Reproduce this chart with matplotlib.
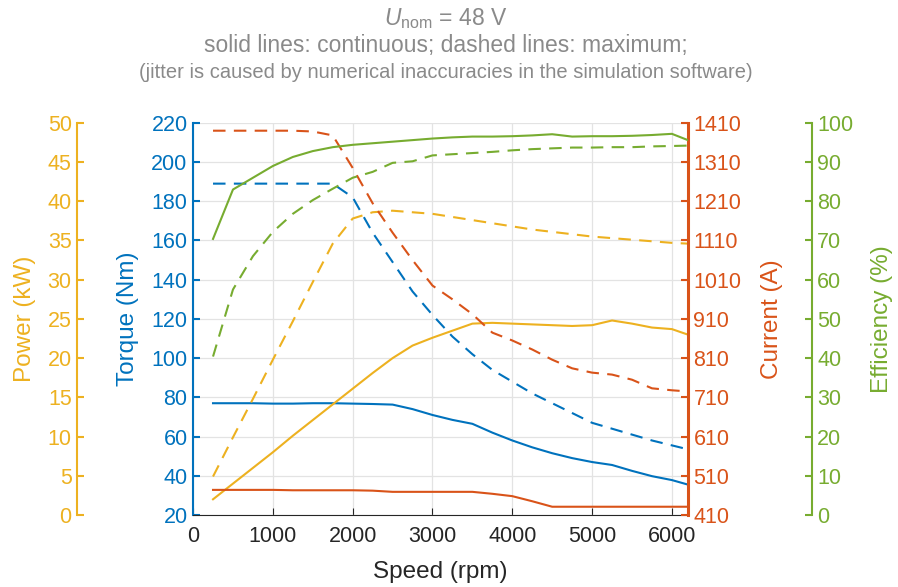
import matplotlib
matplotlib.use('Agg')
import matplotlib.pyplot as plt

plt.rcParams['font.family'] = ['Liberation Sans', 'DejaVu Sans']
plt.rcParams['mathtext.fontset'] = 'custom'
plt.rcParams['mathtext.rm'] = 'Liberation Sans'
plt.rcParams['mathtext.it'] = 'Liberation Sans:italic'

# speed grid (rpm)
speed = [250, 500, 750, 1000, 1250, 1500, 1750, 2000, 2250, 2500, 2750, 3000, 3250,
         3500, 3750, 4000, 4250, 4500, 4750, 5000, 5250, 5500, 5750, 6000, 6200]

# torque (Nm)
torque_cont = [77, 77, 77, 76.8, 76.8, 77, 77, 76.8, 76.6, 76.3, 74, 71, 68.5,
               66.5, 62, 58, 54.5, 51.5, 49, 47, 45.5, 42.5, 39.8, 37.8, 35.5]
torque_max = [189, 189, 189, 189, 189, 189, 189, 182, 164, 149, 134, 122, 111,
              102, 94, 88, 82, 77, 72, 67, 64, 61, 58, 55.5, 53.5]

# power (kW)
power_cont = [2.0, 4.0, 6.0, 8.0, 10.1, 12.1, 14.1, 16.1, 18.1, 20.0, 21.6, 22.6, 23.5,
              24.4, 24.5, 24.4, 24.3, 24.2, 24.1, 24.2, 24.8, 24.4, 23.9, 23.7, 23.0]
power_max = [4.9, 9.9, 14.8, 19.8, 24.7, 29.7, 34.6, 37.8, 38.6, 38.8, 38.6, 38.4, 38.0,
             37.6, 37.2, 36.8, 36.4, 36.1, 35.8, 35.5, 35.3, 35.1, 34.9, 34.7, 34.6]

# current (A)
current_cont = [474, 474, 474, 474, 473, 473, 473, 473, 472, 469, 469, 469, 469,
                469, 464, 458, 445, 431, 431, 431, 431, 431, 431, 431, 431]
current_max = [1390, 1390, 1390, 1390, 1390, 1388, 1378, 1295, 1205, 1130, 1060, 995, 960,
               922, 875, 855, 832, 806, 784, 773, 768, 755, 733, 728, 725]

# efficiency (%)
eff_cont = [70.4, 83, 86, 89, 91.3, 92.8, 93.8, 94.4, 94.8, 95.2, 95.6, 96, 96.3,
            96.5, 96.5, 96.6, 96.8, 97.1, 96.5, 96.6, 96.6, 96.7, 96.9, 97.2, 95.6]
eff_max = [40.4, 57.5, 66, 72.2, 76.8, 80.3, 83.2, 86, 87.5, 89.8, 90.2, 91.7, 92,
           92.3, 92.6, 93, 93.3, 93.5, 93.7, 93.7, 93.8, 93.8, 94, 94.1, 94.2]

c_blue = '#0072BD'
c_red = '#D95319'
c_yel = '#EDB120'
c_grn = '#77AC30'
c_txt = '#262626'
dash = (6, 4)
lw = 1.5
fs = 15.5
fl = 17.5

fig = plt.figure(figsize=(8.98, 5.87), dpi=100)
ax = fig.add_axes([0.215, 0.1227, 0.551, 0.668])

ax_p = ax.twinx()
ax_i = ax.twinx()
ax_e = ax.twinx()

ax.plot(speed, torque_cont, color=c_blue, lw=lw)
ax.plot(speed, torque_max, color=c_blue, lw=lw, dashes=dash)
ax_p.plot(speed, power_cont, color=c_yel, lw=lw)
ax_p.plot(speed, power_max, color=c_yel, lw=lw, dashes=dash)
ax_i.plot(speed, current_cont, color=c_red, lw=lw)
ax_i.plot(speed, current_max, color=c_red, lw=lw, dashes=dash)
ax_e.plot(speed, eff_cont, color=c_grn, lw=lw)
ax_e.plot(speed, eff_max, color=c_grn, lw=lw, dashes=dash)

ax.set_xlim(0, 6200)
ax.set_xticks(range(0, 6001, 1000))
ax.set_ylim(20, 220)
ax.set_yticks(range(20, 221, 20))
ax.grid(True, color='#e3e3e3', lw=0.9)
ax.set_axisbelow(True)

for a in (ax, ax_p, ax_i, ax_e):
    a.spines['top'].set_visible(False)
    a.tick_params(direction='in', length=5, labelsize=fs, pad=4)

# torque (inner left)
ax.spines['right'].set_visible(False)
ax.spines['left'].set_color(c_blue)
ax.spines['left'].set_linewidth(1.5)
ax.spines['bottom'].set_color(c_txt)
ax.tick_params(axis='y', colors=c_blue, width=1.5)
ax.tick_params(axis='x', colors=c_txt, labelcolor=c_txt, pad=8)
ax.set_xlabel('Speed (rpm)', fontsize=fl, color=c_txt, labelpad=10)
ax.set_ylabel('Torque (Nm)', fontsize=fl, color=c_blue)
ax.yaxis.set_label_coords(-0.11, 0.5)

# power (outer left)
ax_p.set_ylim(0, 50)
ax_p.set_yticks(range(0, 51, 5))
ax_p.spines['right'].set_visible(False)
ax_p.spines['bottom'].set_visible(False)
ax_p.spines['left'].set_visible(True)
ax_p.spines['left'].set_position(('axes', -0.234))
ax_p.spines['left'].set_color(c_yel)
ax_p.spines['left'].set_linewidth(1.5)
ax_p.yaxis.set_ticks_position('left')
ax_p.yaxis.set_label_position('left')
ax_p.tick_params(axis='y', colors=c_yel, width=1.5)
ax_p.set_ylabel('Power (kW)', fontsize=fl, color=c_yel)
ax_p.yaxis.set_label_coords(-0.318, 0.5)

# current (inner right)
ax_i.set_ylim(410, 1410)
ax_i.set_yticks(range(410, 1411, 100))
ax_i.spines['left'].set_visible(False)
ax_i.spines['bottom'].set_visible(False)
ax_i.spines['right'].set_color(c_red)
ax_i.spines['right'].set_linewidth(2.2)
ax_i.tick_params(axis='y', colors=c_red, width=1.5)
ax_i.set_ylabel('Current (A)', fontsize=fl, color=c_red)
ax_i.yaxis.set_label_coords(1.147, 0.5)

# efficiency (outer right)
ax_e.set_ylim(0, 100)
ax_e.set_yticks(range(0, 101, 10))
ax_e.spines['left'].set_visible(False)
ax_e.spines['bottom'].set_visible(False)
ax_e.spines['right'].set_position(('axes', 1.2505))
ax_e.spines['right'].set_color(c_grn)
ax_e.spines['right'].set_linewidth(1.5)
ax_e.tick_params(axis='y', colors=c_grn, width=1.5)
ax_e.set_ylabel('Efficiency (%)', fontsize=fl, color=c_grn)
ax_e.yaxis.set_label_coords(1.37, 0.5)

gray = '#8a8a8a'
fig.text(0.496, 0.969, r'$U_{\mathrm{nom}}$ = 48 V', ha='center', va='center', fontsize=16.5, color=gray)
fig.text(0.496, 0.923, 'solid lines: continuous; dashed lines: maximum;', ha='center', va='center',
         fontsize=16.5, color=gray)
fig.text(0.496, 0.877, '(jitter is caused by numerical inaccuracies in the simulation software)',
         ha='center', va='center', fontsize=14.5, color=gray)

fig.savefig('out.png', dpi=100)
